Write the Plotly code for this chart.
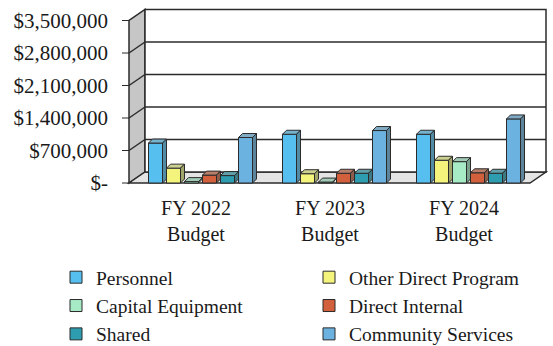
import plotly.graph_objects as go

# ---- data -----------------------------------------------------------------
categories = ["FY 2022<br>Budget", "FY 2023<br>Budget", "FY 2024<br>Budget"]

series_names = [
    "Personnel",
    "Other Direct Program",
    "Capital Equipment",
    "Direct Internal",
    "Shared",
    "Community Services",
]

personnel = [860000, 1050000, 1050000]
other_direct_program = [320000, 200000, 490000]
capital_equipment = [30000, 20000, 460000]
direct_internal = [170000, 210000, 220000]
shared = [160000, 210000, 210000]
community_services = [980000, 1130000, 1380000]

series_values = [
    personnel,
    other_direct_program,
    capital_equipment,
    direct_internal,
    shared,
    community_services,
]

series_colors = ["#56BFEF", "#F4F47C", "#A6EBC5", "#D2603C", "#2E9DB0", "#6CB2E0"]

tick_values = [0, 700000, 1400000, 2100000, 2800000, 3500000]
tick_labels = ["$-", "$700,000", "$1,400,000", "$2,100,000", "$2,800,000", "$3,500,000"]

# ---- geometry of the pseudo-3D frame ----------------------------------------
W, H = 553, 346
M_L, M_R, M_T, M_B = 112, 5, 4, 158
GROUP_PX = 134.0                 # pixels between category groups
X_PER_PX = 1.0 / GROUP_PX
V_PER_PX = 700000 / 32.5         # value units per pixel

X0_PX = 200.5                    # pixel of first group centre
BASE_PX = 183.0                  # pixel of zero on the front plane

x_range = [(M_L - X0_PX) * X_PER_PX, (W - M_R - X0_PX) * X_PER_PX]
y_range = [-(H - M_B - BASE_PX) * V_PER_PX, (BASE_PX - M_T) * V_PER_PX]

wall_left = (129 - X0_PX) * X_PER_PX
wall_right = (530 - X0_PX) * X_PER_PX
depth_x = 16 * X_PER_PX
depth_y = 11 * V_PER_PX
wall_top = tick_values[-1]

pitch = 18 * X_PER_PX
bar_w = 14 * X_PER_PX
bar_dx = 4 * X_PER_PX
bar_dy = 4 * V_PER_PX
label_shift = -4.5 * X_PER_PX

EDGE = "#2b2b2b"
TEXT = "#1a1a1a"
FONT = "Liberation Serif, Times New Roman, serif"


def blend(hex_a, hex_b, t):
    a = [int(hex_a[i:i + 2], 16) for i in (1, 3, 5)]
    b = [int(hex_b[i:i + 2], 16) for i in (1, 3, 5)]
    c = [round(a[k] * (1 - t) + b[k] * t) for k in range(3)]
    return "#" + "".join(f"{v:02x}" for v in c)


def path(points):
    return "M " + " L ".join(f"{x},{y}" for x, y in points) + " Z"


shapes = []
# left wall
shapes.append(dict(
    type="path", layer="below", xref="x", yref="y",
    path=path([(wall_left, 0), (wall_left + depth_x, depth_y),
               (wall_left + depth_x, wall_top + depth_y), (wall_left, wall_top)]),
    fillcolor="#C6C6C6", line=dict(color=EDGE, width=1.5)))
# floor
shapes.append(dict(
    type="path", layer="below", xref="x", yref="y",
    path=path([(wall_left, 0), (wall_right, 0),
               (wall_right + depth_x, depth_y), (wall_left + depth_x, depth_y)]),
    fillcolor="#E4E4E4", line=dict(color=EDGE, width=1.5)))
# back wall
shapes.append(dict(
    type="rect", layer="below", xref="x", yref="y",
    x0=wall_left + depth_x, x1=wall_right + depth_x,
    y0=depth_y, y1=wall_top + depth_y,
    fillcolor="white", line=dict(color=EDGE, width=1.5)))
# gridlines on back wall + their continuation across the side wall
for v in tick_values[1:-1]:
    shapes.append(dict(type="line", layer="below", xref="x", yref="y",
                       x0=wall_left + depth_x, x1=wall_right + depth_x,
                       y0=v + depth_y, y1=v + depth_y,
                       line=dict(color=EDGE, width=1.5)))
    shapes.append(dict(type="line", layer="below", xref="x", yref="y",
                       x0=wall_left, x1=wall_left + depth_x,
                       y0=v, y1=v + depth_y,
                       line=dict(color=EDGE, width=1.5)))
# small tick marks on the front edge of the side wall
for v in tick_values:
    shapes.append(dict(type="line", layer="below", xref="x", yref="y",
                       x0=wall_left - 7 * X_PER_PX, x1=wall_left,
                       y0=v, y1=v, line=dict(color=EDGE, width=1)))

fig = go.Figure()

group_pos = list(range(len(categories)))
for i, (name, vals, col) in enumerate(zip(series_names, series_values, series_colors)):
    xs = [g + (i - 2.5) * pitch for g in group_pos]
    # legend laid out in two columns: even series left, odd series right
    legend_id = "legend" if i % 2 == 0 else "legend2"
    fig.add_trace(go.Bar(
        x=xs, y=vals, width=bar_w, name=name, legend=legend_id,
        marker=dict(color=col, line=dict(color=EDGE, width=1)),
        hovertemplate=name + ": $%{y:,.0f}<extra></extra>",
    ))
    top_x, top_y, side_x, side_y = [], [], [], []
    for xc, v in zip(xs, vals):
        xl, xr = xc - bar_w / 2, xc + bar_w / 2
        top_x += [xl, xl + bar_dx, xr + bar_dx, xr, xl, None]
        top_y += [v, v + bar_dy, v + bar_dy, v, v, None]
        side_x += [xr, xr + bar_dx, xr + bar_dx, xr, xr, None]
        side_y += [0, bar_dy, v + bar_dy, v, 0, None]
    fig.add_trace(go.Scatter(
        x=top_x, y=top_y, mode="lines", fill="toself",
        fillcolor=blend(col, "#9aa3a3", 0.45),
        line=dict(color=EDGE, width=1), showlegend=False, hoverinfo="skip"))
    fig.add_trace(go.Scatter(
        x=side_x, y=side_y, mode="lines", fill="toself",
        fillcolor=blend(col, "#4d5858", 0.5),
        line=dict(color=EDGE, width=1), showlegend=False, hoverinfo="skip"))

legend_common = dict(
    orientation="v", xref="container", yref="container",
    xanchor="left", y=1 - 258 / H, yanchor="top",
    font=dict(family=FONT, size=19.5, color=TEXT),
    bgcolor="rgba(0,0,0,0)", traceorder="normal",
)

fig.update_layout(
    width=W, height=H,
    margin=dict(l=M_L, r=M_R, t=M_T, b=M_B, autoexpand=False),
    paper_bgcolor="white", plot_bgcolor="white",
    barmode="overlay",
    shapes=shapes,
    font=dict(family=FONT, size=20, color=TEXT),
    xaxis=dict(
        range=x_range, showgrid=False, zeroline=False, showline=False,
        ticks="", tickmode="array", automargin=False,
        tickvals=[g + label_shift for g in group_pos], ticktext=categories,
        tickfont=dict(family=FONT, size=20, color=TEXT),
        ticklabelstandoff=6, fixedrange=True,
    ),
    yaxis=dict(
        range=y_range, showgrid=False, zeroline=False, showline=False,
        ticks="", tickmode="array", tickvals=tick_values, ticktext=tick_labels,
        automargin=False,
        tickfont=dict(family=FONT, size=21, color=TEXT),
        ticklabelstandoff=3, fixedrange=True,
    ),
    legend=dict(legend_common, x=56 / W),
    legend2=dict(legend_common, x=309 / W),
    showlegend=True,
)

fig.write_html("out.html")
